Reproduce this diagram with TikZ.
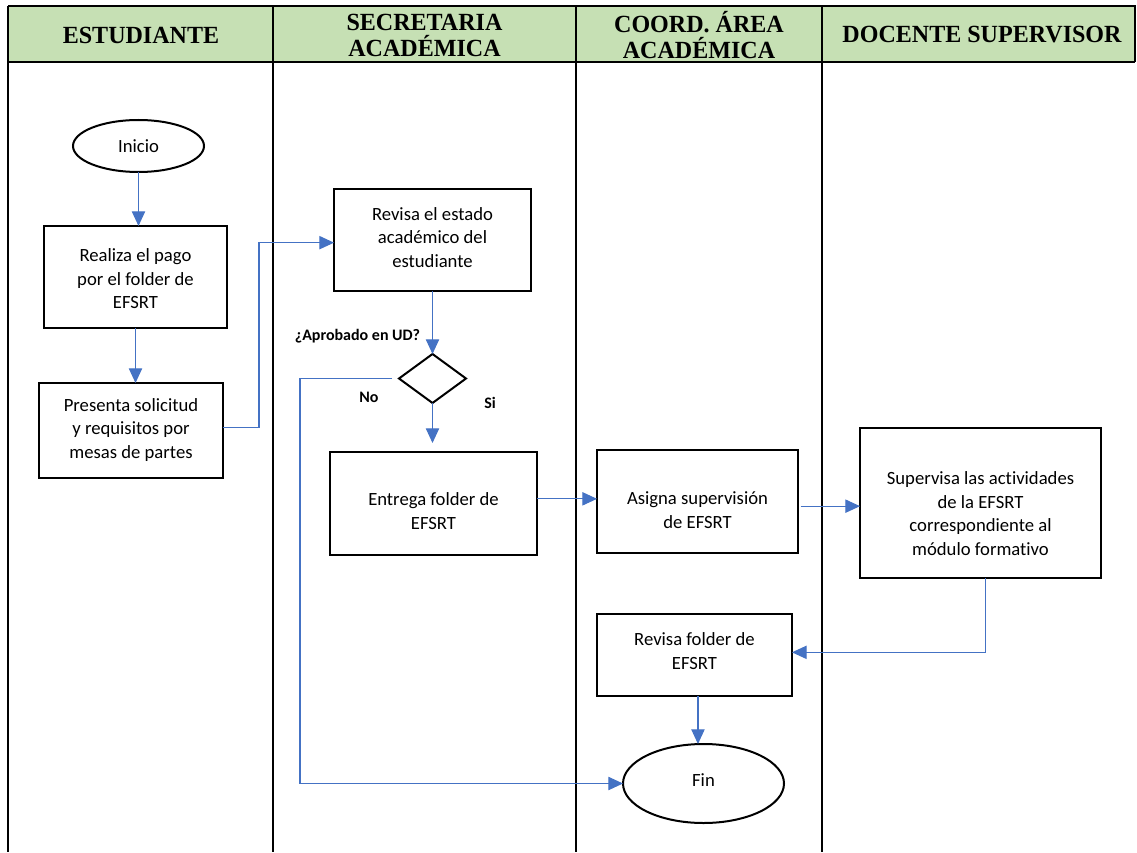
\documentclass[tikz,border=0pt]{standalone}
\usepackage{fontspec}
\setmainfont{Carlito}[Ligatures={NoCommon,NoContextual}]
\newfontfamily\headfont{Liberation Serif}[FakeStretch=0.975]
\usetikzlibrary{arrows.meta,shapes.geometric}
\definecolor{hdrgreen}{RGB}{198,224,180}
\definecolor{flowblue}{RGB}{68,114,196}

\begin{document}
\begin{tikzpicture}[x=0.75pt,y=-0.75pt,
  lane/.style={line width=1.5pt},
  box/.style={draw, line width=1.5pt, rectangle, inner sep=0pt, outer sep=0pt},
  term/.style={draw, line width=1.5pt, ellipse, inner sep=0pt, outer sep=0pt},
  decision/.style={draw, line width=1.5pt, diamond, inner sep=0pt, outer sep=0pt},
  txt/.style={font=\fontsize{14}{17.6}\selectfont, align=center, inner sep=0pt},
  lbl/.style={font=\fontsize{12}{14}\selectfont\bfseries, inner sep=0pt},
  head/.style={font=\headfont\bfseries\fontsize{18.5}{19.5}\selectfont, align=center, inner sep=0pt},
  flow/.style={draw=flowblue, line width=0.8pt, -{Triangle[length=11pt,width=10pt]}},
]
\useasboundingbox (0,0) rectangle (1137,852);

% swimlane table
\fill[hdrgreen] (8,6) rectangle (1135,62);
\draw[lane] (8,6) -- (1135,6) -- (1135,62);
\draw[lane] (8,62) -- (1135,62);
\foreach \lx in {8,273,576,822} \draw[lane] (\lx,6) -- (\lx,852);

\node[head] (h1) at (141,35) {ESTUDIANTE};
\node[head] (h2) at (424.5,35) {SECRETARIA\\ACADÉMICA};
\node[head] (h3) at (699,35) {COORD. ÁREA\\ACADÉMICA};
\node[head] (h4) at (982,35) {DOCENTE SUPERVISOR};

% shapes
\node[term, minimum width={131*0.75pt}, minimum height={52*0.75pt}] (inicio) at (138.5,146) {};
\node[box, minimum width={183*0.75pt}, minimum height={102*0.75pt}] (realiza) at (135.5,277) {};
\node[box, minimum width={184*0.75pt}, minimum height={95*0.75pt}] (presenta) at (131,430.5) {};
\node[box, minimum width={197*0.75pt}, minimum height={102*0.75pt}] (revisa) at (432.5,240) {};
\node[decision, minimum width={67*0.75pt}, minimum height={49*0.75pt}] (dec) at (432.5,378.5) {};
\node[box, minimum width={207*0.75pt}, minimum height={103*0.75pt}] (entrega) at (433.5,503.5) {};
\node[box, minimum width={201*0.75pt}, minimum height={103*0.75pt}] (asigna) at (697.5,501.5) {};
\node[box, minimum width={241*0.75pt}, minimum height={150*0.75pt}] (supervisa) at (980.5,503) {};
\node[box, minimum width={195*0.75pt}, minimum height={82*0.75pt}] (rfolder) at (694.5,655) {};
\node[term, minimum width={161*0.75pt}, minimum height={79*0.75pt}] (fin) at (703.5,783.5) {};

% texts inside the shapes
\node[txt] (t1) at (138.5,146) {Inicio};
\node[txt] (t2) at (135.5,279) {Realiza el pago\\por el folder de\\EFSRT};
\node[txt] (t3) at (131,430) {Presenta solicitud\\y requisitos por\\mesas de partes};
\node[txt] (t4) at (432.5,237.5) {Revisa el estado\\académico del\\estudiante};
\node[txt] (t5) at (433.5,511) {Entrega folder de\\EFSRT};
\node[txt] (t6) at (697.5,510) {Asigna supervisión\\de EFSRT};
\node[txt] (t7) at (980.5,513.5) {Supervisa las actividades\\de la EFSRT\\correspondiente al\\módulo formativo};
\node[txt] (t8) at (694.5,651) {Revisa folder de\\EFSRT};
\node[txt] (t9) at (703.5,780) {Fin};

% decision labels
\node[lbl] (q) at (357.5,336) {¿Aprobado en UD?};
\node[lbl] (no) at (369,397) {No};
\node[lbl] (si) at (490,403) {Si};

% routing points
\coordinate (bendA) at (259,0);
\coordinate (bendNo) at (300,0);

% connectors
\draw[flow] (inicio.south) -- (inicio.south |- realiza.north);
\draw[flow] (realiza.south) -- (realiza.south |- presenta.north);
\draw[flow] ([yshift=2.5pt]presenta.east) -- ([yshift=2.5pt]presenta.east -| bendA) |- ([yshift=-2pt]revisa.west);
\draw[flow] (revisa.south) -- (dec.north);
\draw[flow, shorten >=6.75pt] (dec.south) -- (dec.south |- entrega.north);
\draw[flow, shorten <=5.25pt] (dec.west) -- (dec.west -| bendNo) |- (fin.west);
\draw[flow] ([yshift=3.5pt]entrega.east) -- ([yshift=3.5pt]entrega.east -| asigna.west);
\draw[flow, shorten <=2pt] ([yshift=-3.5pt]asigna.east) -- ([yshift=-3.5pt]asigna.east -| supervisa.west);
\draw[flow] ([xshift=3.4pt]supervisa.south) |- ([yshift=2pt]rfolder.east);
\draw[flow] ([xshift=2.6pt]rfolder.south) -- ([xshift=2.6pt]rfolder.south |- fin.north);
\end{tikzpicture}
\end{document}
